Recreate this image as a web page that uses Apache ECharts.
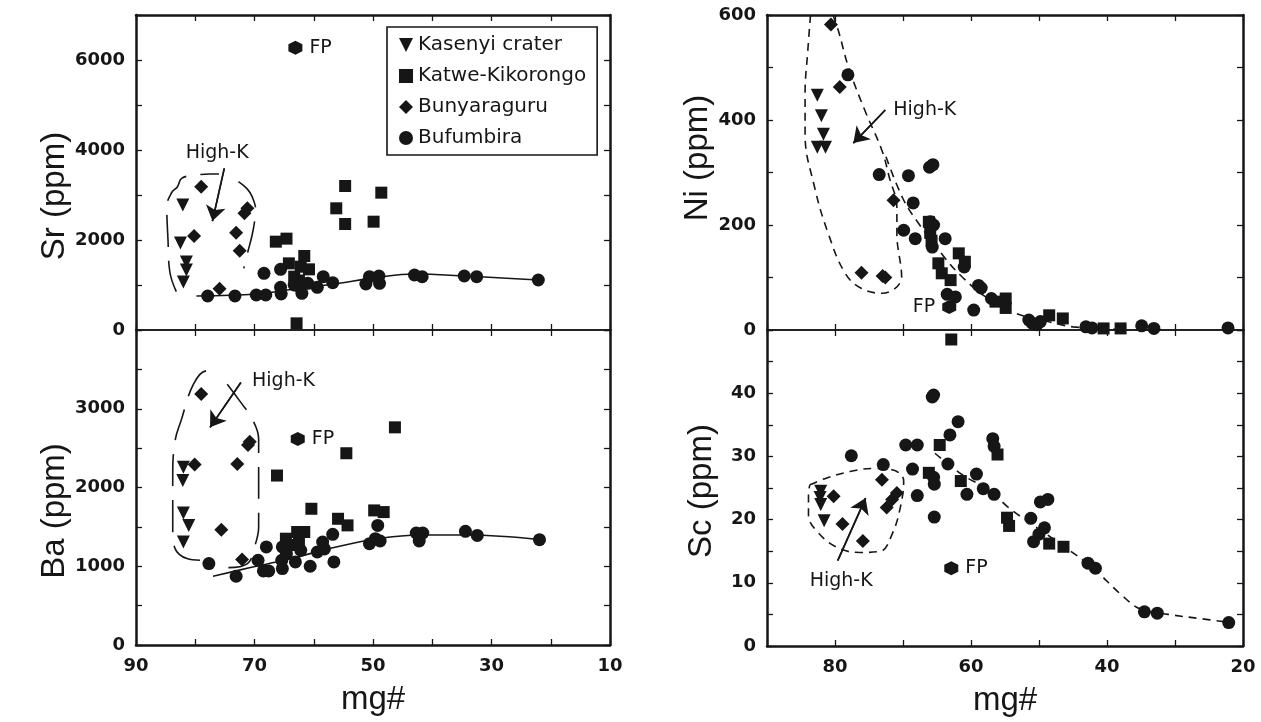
<!DOCTYPE html>
<html><head><meta charset="utf-8">
<script src="https://cdn.jsdelivr.net/npm/echarts@6/dist/echarts.min.js"></script>
<style>html,body{margin:0;padding:0;background:#fff}#c{width:1261px;height:722px}</style>
</head><body><div id="c"></div>
<script>
// ---------- DATA (mg#, value) ----------
const legendNames = ['Kasenyi crater', 'Katwe-Kikorongo', 'Bunyaraguru', 'Bufumbira'];
const mgLeftTicks = [90, 70, 50, 30, 10];
const mgRightTicks = [80, 60, 40, 20];
const srTicks = [0, 2000, 4000, 6000];
const baTicks = [0, 1000, 2000, 3000];
const niTicks = [0, 200, 400, 600];
const scTicks = [0, 10, 20, 30, 40];

// Sr panel
const srKasenyi = [[82.1,2778],[82.5,1933],[81.5,1511],[81.5,1333],[82,1067]];
const srKatwe = [[54.7,3200],[48.6,3052],[56.2,2704],[54.7,2356],[49.9,2407],[66.4,1963],[64.6,2030],[61.6,1644],[64.2,1481],[60.8,1348],[62.2,1407],[62.9,148],[63.3,1185],[62.5,1100]];
const srBunya = [[79.0,3185],[80.2,2089],[71.2,2704],[71.7,2593],[73.1,2163],[72.5,1763],[75.9,918]];
const srBufum = [[77.9,756],[73.3,756],[69.7,778],[68.1,778],[68.4,1259],[65.6,1348],[65.6,948],[65.5,800],[62.0,815],[61.0,1037],[59.4,948],[58.4,1185],[56.8,1052],[51.2,1022],[50.6,1185],[49.0,1200],[48.9,1037],[43.0,1222],[41.7,1185],[34.6,1200],[32.5,1185],[22.1,1111],[63.3,1000],[62.5,970]];
const srFP = [[63.1,6274]];
const srTrend = [[79.8,756],[69.5,800],[64.5,889],[56.6,1022],[49.2,1170],[43.0,1244],[34.5,1200],[22.1,1111]];
const srHighKLeft = [[83.2,852],[84.3,1300],[84.6,2000],[84.8,2740],[84.0,3050],[83.0,3185],[82.3,3370],[80,3440],[77.5,3467],[76,3467]];
const srHighKRight = [[72.7,3296],[71.2,3130],[70.4,2963],[69.8,2667],[70.0,2400],[70.4,2111],[71.1,1750],[71.8,1370]];
const srHighKText = [[76.3,3940]];
const srArrow = [[75.1,3593],[77.1,2420]];

// Ba panel
const baKasenyi = [[82,2257],[82.1,2089],[82,1675],[81.1,1519],[82,1308]];
const baKatwe = [[46.3,2764],[54.5,2435],[66.2,2152],[60.4,1730],[49.8,1709],[48.2,1688],[55.9,1603],[54.3,1519],[64.7,1350],[62.8,1435],[61.6,1435],[64,1270],[62.5,1300]];
const baBunya = [[79,3186],[80.1,2291],[72.9,2300],[71.1,2540],[70.8,2580],[75.6,1464],[72.1,1085]];
const baBufum = [[77.7,1034],[73.1,873],[69.4,1076],[68.5,941],[67.6,941],[68,1245],[65.3,971],[65.4,1076],[65.3,1245],[64.6,1160],[63.1,1055],[62.2,1203],[60.6,1000],[59.4,1181],[58.5,1308],[58.2,1220],[56.8,1405],[56.6,1055],[50.6,1287],[48.8,1321],[49.2,1519],[49.6,1350],[42.7,1422],[41.6,1422],[42.2,1321],[34.4,1443],[32.4,1392],[21.9,1338]];
const baFP = [[62.7,2616]];
const baTrend = [[77.0,873],[70.7,983],[64.5,1085],[56.6,1237],[49.2,1350],[41.9,1396],[34.0,1396],[21.9,1338]];
const baHighKLeft = [[79.2,1076],[81.4,1097],[83.4,1224],[83.8,1456],[83.8,2173],[83.4,2595],[82.4,2848],[80.3,3312],[78.1,3481],[76.9,3447]];
const baHighKRight = [[74.6,3312],[72.5,3100],[70.4,2870],[69.3,2616],[69.3,1497],[70.0,1245],[71.2,1034],[74.4,983]];
const baHighKText = [[65.1,3354]];
const baArrow = [[72.3,3333],[77.5,2764]];

// Ni panel
const niKasenyi = [[82.6,447],[82.0,408],[81.7,373],[82.6,348],[81.4,348]];
const niKatwe = [[66.2,206],[66,185],[65.8,170],[64.8,127],[64.3,108],[63.0,95],[61.8,146],[60.9,130],[56.4,54],[54.9,60],[54.9,42],[48.5,28],[46.5,22],[38,3],[40.5,3]];
const niBunya = [[80.6,582],[79.3,463],[71.4,247],[76.1,109],[73.0,103],[72.6,100]];
const niBufum = [[78.1,486],[73.5,296],[69.2,294],[66.1,310],[65.6,315],[68.5,242],[69.9,190],[68.2,174],[66.0,206],[65.5,200],[63.8,174],[65.7,158],[61.0,120],[58.9,85],[58.5,80],[63.5,68],[62.3,63],[59.6,38],[57.0,60],[51.5,19],[51.0,13],[49.8,16],[50.3,10],[43.1,6],[42.2,4],[34.9,8],[33.1,3],[22.2,4]];
const niFP = [[63.2,44]];
const niTrend = [[72.5,330],[70,250],[67.7,203],[64,140],[61.3,101],[57.5,60],[53.5,32],[48,14],[45,6],[40,2],[37,1]];
const niHighK = [[83.6,600],[84.0,532],[84.4,450],[84.4,373],[83,272],[81,184],[78.5,108],[76.1,79],[73.1,70],[70.2,101],[70.9,184],[70.9,234],[72,290],[73.1,342],[75.6,418],[78,500],[79.5,570],[80.3,600]];
const niHighKText = [[66.8,418]];
const niArrow = [[72.6,419],[77.3,356]];

// Sc panel
const scKasenyi = [[82.1,24.5],[82.1,22.4],[81.6,19.8],[82.2,23.5]];
const scKatwe = [[64.6,31.8],[66.2,27.4],[61.5,26.1],[56.1,30.3],[54.7,20.3],[54.4,19.0],[48.5,16.2],[46.4,15.7],[62.9,48.5]];
const scBunya = [[80.2,23.7],[78.9,19.3],[75.9,16.6],[73.1,26.3],[72.4,21.9],[71.6,23.2],[70.9,24.2]];
const scBufum = [[77.6,30.1],[72.9,28.7],[69.6,31.8],[67.9,31.8],[68.6,28.0],[67.9,23.8],[65.5,39.7],[65.7,39.4],[65.4,25.6],[65.5,26.7],[65.4,20.4],[63.1,33.4],[61.9,35.5],[63.4,28.8],[60.6,24.0],[59.2,27.2],[58.2,24.9],[56.6,24.0],[56.8,32.8],[56.6,31.6],[51.2,20.2],[49.8,22.8],[48.7,23.2],[50.8,16.5],[50.0,17.7],[49.2,18.7],[42.8,13.1],[41.7,12.3],[34.5,5.4],[32.6,5.2],[22.1,3.7]];
const scFP = [[62.9,12.3]];
const scTrend = [[65.3,30.5],[61.3,27.1],[57,24.5],[54.6,22.0],[50,18.5],[46,15.5],[42,12.3],[38,8.2],[35,5.8],[31,5.0],[26,4.3],[22.5,3.8]];
const scHighK = [[83.7,25.5],[81.2,26.6],[77.8,27.6],[74.3,28.1],[71.6,27.9],[69.9,26.1],[70.4,21.9],[71.6,17.7],[73.3,15.0],[76.3,14.8],[79.7,15.6],[82.7,18.2],[83.9,20.8],[83.9,24.1],[83.7,25.5]];
const scHighKText = [[79.1,10.2]];
const scArrow = [[79.6,13.5],[75.5,23.4]];

// ---------- STYLE ----------
const INK = '#161616';
const TRI = 'path://M0,0L12,0L6,12Z';
const HEX = 'path://M6,0L11.2,3L11.2,9L6,12L0.8,9L0.8,3Z';
const SYM = {
  'Kasenyi crater': [TRI, [13, 13]],
  'Katwe-Kikorongo': ['rect', 12],
  'Bunyaraguru': ['diamond', 14],
  'Bufumbira': ['circle', 13]
};
const tickFont = {fontFamily: 'DejaVu Sans', fontWeight: 'bold', fontSize: 18, color: INK};
const nameFont = {fontFamily: 'Liberation Sans', fontSize: 33, color: INK};
const OUT = 2.5, MID = 1.5;

function fmtSet(list) { return v => list.indexOf(v) >= 0 ? String(v) : ''; }

const grids = [
  {left: 136, top: 15, width: 474, height: 315},
  {left: 136, top: 330, width: 474, height: 315},
  {left: 767, top: 15, width: 476, height: 315},
  {left: 767, top: 330, width: 476, height: 316}
].map(g => Object.assign({containLabel: false, show: false}, g));

function axLine(w) { return {show: true, onZero: false, lineStyle: {color: INK, width: w}}; }
const tick = {show: true, inside: true, length: 6, lineStyle: {color: INK, width: 1.3}};

const xAxis = [], yAxis = [];
function addX(g, min, max, showLab, ticks, bw, tw) {
  xAxis.push({gridIndex: g, type: 'value', position: 'bottom', min, max, interval: 10, inverse: true,
    axisLine: axLine(bw), axisTick: tick, splitLine: {show: false},
    axisLabel: Object.assign({show: showLab, formatter: fmtSet(ticks), margin: 12, showMinLabel: true, showMaxLabel: true}, tickFont),
    name: showLab ? 'mg#' : '', nameLocation: 'middle', nameGap: 38, nameTextStyle: nameFont});
  xAxis.push({gridIndex: g, type: 'value', position: 'top', min, max, interval: 10, inverse: true,
    axisLine: axLine(tw), axisTick: tick, splitLine: {show: false}, axisLabel: {show: false}});
}
function addY(g, min, max, iv, ticks, name, gap, pad) {
  yAxis.push({gridIndex: g, type: 'value', position: 'left', min, max, interval: iv,
    axisLine: axLine(OUT), axisTick: tick, splitLine: {show: false},
    axisLabel: Object.assign({formatter: fmtSet(ticks), margin: 11, showMinLabel: true, showMaxLabel: true}, tickFont),
    name, nameLocation: 'middle', nameGap: gap, nameTextStyle: Object.assign({padding: pad}, nameFont)});
  yAxis.push({gridIndex: g, type: 'value', position: 'right', min, max, interval: iv,
    axisLine: axLine(OUT), axisTick: tick, splitLine: {show: false}, axisLabel: {show: false}});
}
addX(0, 10, 90, false, mgLeftTicks, MID, OUT);
addX(1, 10, 90, true, mgLeftTicks, OUT, MID);
addX(2, 20, 90, false, mgRightTicks, MID, OUT);
addX(3, 20, 90, true, mgRightTicks, OUT, MID);
addY(0, 0, 7000, 1000, srTicks, 'Sr (ppm)', 60, [0, 47, 0, 0]);
addY(1, 0, 4000, 500, baTicks, 'Ba (ppm)', 60, [0, 47, 0, 0]);
addY(2, 0, 600, 100, niTicks, 'Ni (ppm)', 49, [0, 0, 0, 29]);
addY(3, 0, 50, 5, scTicks, 'Sc (ppm)', 49, [0, 6, 0, 0]);

const series = [];
function ax(g) { return {xAxisIndex: 2 * g, yAxisIndex: 2 * g}; }
function pts(g, name, data) {
  const s = SYM[name];
  series.push(Object.assign({type: 'scatter', name, data, symbol: s[0], symbolSize: s[1],
    itemStyle: {color: INK, opacity: 1}, z: 3}, ax(g)));
}
function fp(g, data, pos) {
  series.push(Object.assign({type: 'scatter', name: 'FP', data, symbol: HEX, symbolSize: 14,
    itemStyle: {color: INK, opacity: 1}, z: 4,
    label: {show: true, formatter: 'FP', position: pos, distance: 7, fontFamily: 'DejaVu Sans', fontSize: 19, color: INK, opacity: 1}}, ax(g)));
}
function curve(g, data, dash, smooth) {
  series.push(Object.assign({type: 'line', name: 'curve', data, symbol: 'none', smooth: smooth,
    lineStyle: {color: INK, width: 1.6, type: dash}, z: 2, silent: true}, ax(g)));
}
function highK(g, textPos, arrow) {
  series.push(Object.assign({type: 'scatter', name: 'High-K', data: textPos, symbolSize: 1,
    itemStyle: {color: 'rgba(255,255,255,0)', opacity: 1}, silent: true, z: 5,
    label: {show: true, formatter: 'High-K', position: 'inside', fontFamily: 'DejaVu Sans', fontSize: 19, color: INK, opacity: 1}}, ax(g)));
  series.push(Object.assign({type: 'line', name: 'arrow', data: arrow, silent: true, z: 5,
    symbol: 'none',
    lineStyle: {color: INK, width: 1.6, type: 'solid'}, itemStyle: {color: INK},
    markLine: {silent: true, symbol: ['none', 'arrow'], symbolSize: 15, label: {show: false},
      itemStyle: {color: INK}, lineStyle: {color: INK, type: 'solid', width: 1.6, opacity: 1},
      data: [[{coord: arrow[0]}, {coord: arrow[1]}]]}}, ax(g)));
}

// Sr
curve(0, srTrend, 'solid', 0.4);
curve(0, srHighKLeft, [32, 14], 0.4);
curve(0, srHighKRight, [32, 14], 0.4);
pts(0, 'Kasenyi crater', srKasenyi); pts(0, 'Katwe-Kikorongo', srKatwe);
pts(0, 'Bunyaraguru', srBunya); pts(0, 'Bufumbira', srBufum);
fp(0, srFP, 'right'); highK(0, srHighKText, srArrow);
// Ba
curve(1, baTrend, 'solid', 0.4);
curve(1, baHighKLeft, [32, 14], 0.4);
curve(1, baHighKRight, [32, 14], 0.4);
pts(1, 'Kasenyi crater', baKasenyi); pts(1, 'Katwe-Kikorongo', baKatwe);
pts(1, 'Bunyaraguru', baBunya); pts(1, 'Bufumbira', baBufum);
fp(1, baFP, 'right'); highK(1, baHighKText, baArrow);
// Ni
curve(2, niTrend, [8, 6], 0.4);
curve(2, niHighK, [8, 6], 0.4);
pts(2, 'Kasenyi crater', niKasenyi); pts(2, 'Katwe-Kikorongo', niKatwe);
pts(2, 'Bunyaraguru', niBunya); pts(2, 'Bufumbira', niBufum);
fp(2, niFP, 'left'); highK(2, niHighKText, niArrow);
// Sc
curve(3, scTrend, [8, 6], 0.4);
curve(3, scHighK, [8, 6], 0.4);
pts(3, 'Kasenyi crater', scKasenyi); pts(3, 'Katwe-Kikorongo', scKatwe);
pts(3, 'Bunyaraguru', scBunya); pts(3, 'Bufumbira', scBufum);
fp(3, scFP, 'right'); highK(3, scHighKText, scArrow);

const option = {
  animation: false,
  backgroundColor: '#fff',
  grid: grids, xAxis, yAxis, series,
  legend: {
    data: legendNames.map(n => ({name: n, icon: SYM[n][0]})),
    orient: 'vertical', left: 387, top: 27, selectedMode: false,
    backgroundColor: '#fff', borderColor: INK, borderWidth: 1.6,
    padding: [8, 11, 7, 12], itemGap: 11, itemWidth: 14, itemHeight: 14,
    textStyle: {fontFamily: 'DejaVu Sans', fontSize: 20, color: INK},
    itemStyle: {color: INK}
  }
};
const chart = echarts.init(document.getElementById('c'), null, {renderer: 'canvas'});
chart.setOption(option);
</script></body></html>
